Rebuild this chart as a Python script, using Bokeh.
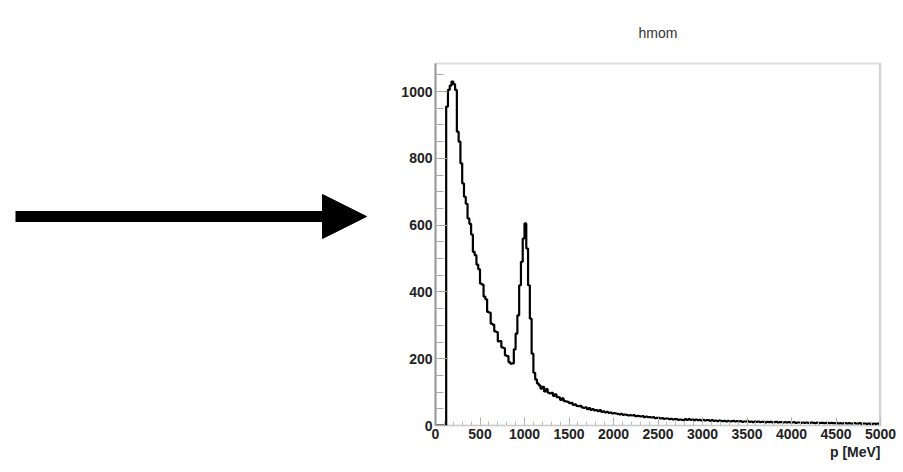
from bokeh.plotting import figure
from bokeh.layouts import row
from bokeh.models import Range1d, Title, Span, Arrow, NormalHead, SingleIntervalTicker, ColumnDataSource
from bokeh.embed import file_html
from bokeh.resources import INLINE

# ---------------- data ----------------
bin_width = 20  # MeV
hist_counts = [
    0, 0, 0, 0, 0, 0, 955, 1005, 1018, 1030,
    1022, 1005, 880, 850, 785, 725, 685, 664, 620, 604,
    572, 520, 510, 482, 468, 425, 422, 386, 378, 340,
    338, 305, 302, 282, 280, 252, 253, 234, 232, 210,
    208, 190, 185, 186, 228, 275, 330, 420, 490, 560,
    605, 530, 420, 320, 215, 158, 138, 126, 120, 110,
    116, 102, 109, 98, 96, 98, 89, 93, 85, 84,
    77, 81, 73, 72, 71, 67, 68, 62, 63, 59,
    58, 59, 54, 53, 54, 49, 52, 47, 49, 45,
    46, 43, 46, 41, 42, 39, 41, 38, 39, 36,
    37, 36, 35, 33, 35, 32, 33, 32, 30, 31,
    30, 31, 28, 29, 28, 27, 28, 25, 27, 25,
    25, 24, 25, 22, 23, 23, 21, 22, 20, 21,
    21, 19, 20, 18, 19, 19, 17, 18, 17, 16,
    19, 17, 19, 17, 18, 16, 18, 16, 17, 15,
    17, 15, 16, 16, 14, 16, 14, 15, 13, 15,
    14, 13, 14, 12, 14, 12, 13, 14, 12, 13,
    12, 13, 11, 12, 12, 13, 11, 12, 10, 12,
    11, 12, 10, 11, 11, 9, 11, 10, 11, 9,
    10, 11, 9, 10, 10, 9, 10, 9, 10, 9,
    9, 10, 8, 9, 9, 8, 9, 8, 9, 8,
    8, 9, 8, 7, 9, 7, 8, 8, 7, 8,
    8, 7, 8, 7, 7, 8, 6, 7, 6, 7,
    7, 6, 7, 6, 6, 7, 6, 6, 7, 5,
    6, 6, 5, 6, 5, 5, 6, 5, 6, 5,
]
x_ticks = [0, 500, 1000, 1500, 2000, 2500, 3000, 3500, 4000, 4500, 5000]
y_ticks = [0, 200, 400, 600, 800, 1000]
title_text = "hmom"
x_title = "p [MeV]"

bin_lo = [i * bin_width for i in range(len(hist_counts))]
step_x = bin_lo + [len(hist_counts) * bin_width]
step_y = hist_counts + [hist_counts[-1]]

FONT = "Liberation Sans"

# ---------------- left panel: arrow ----------------
# the row aligns this panel's frame with the histogram frame (pixels 63..425),
# so the y range is expressed in page pixels over that span
left = figure(width=380, height=472, output_backend="svg", toolbar_location=None,
              x_range=Range1d(0, 380), y_range=Range1d(425, 63),
              min_border=0)
left.title.visible = False
left.axis.visible = False
left.grid.visible = False
left.outline_line_color = None
left.add_layout(Arrow(x_start=15, y_start=216, x_end=366, y_end=216,
                      line_width=11, line_color="black",
                      end=NormalHead(size=44, fill_color="black", line_color="black", line_width=1)))

# ---------------- right panel: histogram ----------------
p = figure(width=523, height=472, output_backend="svg", toolbar_location=None,
           x_range=Range1d(0, 5000), y_range=Range1d(0, 1084),
           min_border_left=55, min_border_right=23, min_border_top=63, min_border_bottom=47)
p.grid.visible = False
p.outline_line_color = "#dddddd"
p.outline_line_width = 2

src = ColumnDataSource(dict(x=step_x, y=step_y))
p.step(x="x", y="y", source=src, mode="after", line_color="black", line_width=2.2)

# right frame shadow
p.add_layout(Span(location=5000, dimension="height", line_color="#cfcfcf", line_width=3))

p.xaxis.ticker = SingleIntervalTicker(interval=500, num_minor_ticks=5)
p.yaxis.ticker = SingleIntervalTicker(interval=200, num_minor_ticks=4)

for ax in (p.xaxis[0], p.yaxis[0]):
    ax.major_tick_out = 0
    ax.minor_tick_out = 0
    ax.major_label_text_font = FONT
    ax.major_label_text_font_size = "14px"
    ax.major_label_text_font_style = "bold"
    ax.major_label_text_color = "#222222"
    ax.major_label_standoff = 3

p.xaxis.axis_line_color = "#cccccc"
p.xaxis.major_tick_in = 8
p.xaxis.minor_tick_in = 4
p.xaxis.major_tick_line_color = "#aaaaaa"
p.xaxis.minor_tick_line_color = "#bbbbbb"

p.yaxis.axis_line_color = "#999999"
p.yaxis.axis_line_width = 2
p.yaxis.major_tick_in = 12
p.yaxis.minor_tick_in = 8
p.yaxis.major_tick_line_color = "#999999"
p.yaxis.minor_tick_line_color = "#aaaaaa"

p.add_layout(Title(text=title_text, align="center", text_font=FONT, text_font_size="14px",
                   text_font_style="normal", text_color="#333333", standoff=45), "above")
p.add_layout(Title(text=x_title, align="right", text_font=FONT, text_font_size="14px",
                   text_font_style="bold", text_color="#222222", standoff=0), "below")

layout = row(left, p, spacing=0)
open("out.html", "w").write(file_html(layout, INLINE))
